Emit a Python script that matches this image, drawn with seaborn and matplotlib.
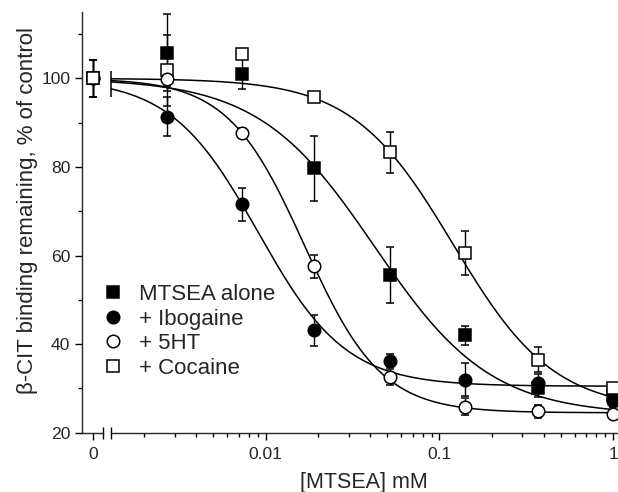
import numpy as np
import pandas as pd
import matplotlib.pyplot as plt
import seaborn as sns
from matplotlib.lines import Line2D
from matplotlib.ticker import NullFormatter

sns.set_style("ticks")
plt.rcParams['font.family'] = ['Liberation Sans', 'DejaVu Sans']

# MTSEA concentrations (mM) and binding remaining (% of control)
conc = [0.0027, 0.0073, 0.019, 0.052, 0.14, 0.37, 1.0]
mtsea = [105.8, 100.9, 79.7, 55.6, 42.0, 30.1, 28.5]
mtsea_err = [8.7, 3.4, 7.4, 6.4, 2.2, 2.0, 1.5]
ibogaine = [91.3, 71.6, 43.1, 36.3, 32.0, 31.2, 27.2]
ibogaine_err = [4.4, 3.7, 3.5, 1.5, 3.7, 2.0, 1.5]
ht5 = [99.8, 87.7, 57.6, 32.5, 25.9, 24.8, 24.2]
ht5_err = [1.5, 1.0, 2.6, 1.8, 2.0, 1.5, 1.0]
cocaine = [101.8, 105.5, 95.8, 83.3, 60.6, 36.5, 30.1]
cocaine_err = [8.0, 1.0, 1.0, 4.7, 5.0, 2.8, 1.0]

# control point (no MTSEA)
control = 100.0
control_err = 4.2

# fitted dose-response curves: bottom, top, IC50 (mM), Hill slope
labels = ["MTSEA alone", "+ Ibogaine", "+ 5HT", "+ Cocaine"]
fit_bottom = [24.0, 30.5, 24.5, 25.0]
fit_top = [100.0, 100.0, 100.0, 100.0]
fit_ic50 = [0.0424, 0.00906, 0.01675, 0.12]
fit_hill = [1.3, 1.72, 1.97, 1.5]

xmin, xmax = 0.001285, 1.05
xs = np.logspace(np.log10(xmin), np.log10(xmax), 300)
rows = []
for lab, b, t, c, h in zip(labels, fit_bottom, fit_top, fit_ic50, fit_hill):
    for x in xs:
        rows.append({"conc": x, "pct": b + (t - b) / (1 + (x / c) ** h), "series": lab})
curves = pd.DataFrame(rows)

fig = plt.figure(figsize=(6.18, 4.92), dpi=100)
ax0 = fig.add_axes([81.7 / 618, 59.3 / 492, 21.6 / 618, 420.7 / 492])
ax = fig.add_axes([110.7 / 618, 59.3 / 492, 506.3 / 618, 420.7 / 492], sharey=ax0)

sns.lineplot(data=curves, x="conc", y="pct", units="series", estimator=None,
             color="black", linewidth=1.1, ax=ax, legend=False)

series = [
    (mtsea, mtsea_err, "s", "black", 8.5),
    (cocaine, cocaine_err, "s", "white", 8.0),
    (ibogaine, ibogaine_err, "o", "black", 9.0),
    (ht5, ht5_err, "o", "white", 9.0),
]
for vals, err, mk, fc, ms in series:
    cont = ax.errorbar(conc, vals, yerr=err, fmt=mk, ms=ms, mfc=fc, mec="black", mew=1.1,
                       ecolor="black", elinewidth=1.0, capsize=2.8, capthick=1.0, zorder=3)
    for art in cont.lines[0:1] + tuple(cont.lines[1]) + tuple(cont.lines[2]):
        art.set_clip_on(False)

# control at zero
for mk, fc, ms in [("s", "black", 8.5), ("o", "black", 9.0), ("o", "white", 9.0), ("s", "white", 8.0)]:
    ax0.errorbar([0], [control], yerr=[control_err], fmt=mk, ms=ms, mfc=fc, mec="black", mew=1.1,
                 ecolor="black", elinewidth=1.0, capsize=2.8, capthick=1.0, zorder=3)

# start mark of fitted curves
ax.vlines(xmin, 95.7, 101.7, color="black", linewidth=1.1, clip_on=False)

ax.set_xscale("log")
ax.set_xlim(xmin, xmax)
ax0.set_xlim(-0.51, 0.49)
ax0.set_ylim(20, 115)

ax0.set_xticks([0])
ax0.set_xticklabels(["0"])
ax0.set_yticks([20, 40, 60, 80, 100])
ax0.set_yticks([30, 50, 70, 90, 110], minor=True)
ax.set_xticks([0.01, 0.1, 1])
ax.set_xticklabels(["0.01", "0.1", "1"])
ax.xaxis.set_minor_formatter(NullFormatter())

for a in (ax0, ax):
    a.spines["top"].set_visible(False)
    a.spines["right"].set_visible(False)
    for s in a.spines.values():
        s.set_linewidth(1.0)
    a.tick_params(which="major", direction="out", length=5, width=1.0, labelsize=12.6,
                  color="black", pad=3.2)
    a.tick_params(axis="x", which="major", pad=5.5)
    a.tick_params(which="minor", direction="out", length=3, width=1.0, color="black")
ax.spines["left"].set_visible(False)
ax.tick_params(which="both", left=False, labelleft=False)

# axis break marks
ax0.plot([1], [0], marker="|", ms=8, mew=1.0, color="black", transform=ax0.transAxes, clip_on=False)
ax.plot([0], [0], marker="|", ms=8, mew=1.0, color="black", transform=ax.transAxes, clip_on=False)

ax0.set_ylabel("β-CIT binding remaining, % of control", fontsize=16)
ax0.yaxis.set_label_coords(-2.02, 0.528)
ax0.set_xlabel("")
ax.set_xlabel("[MTSEA] mM", fontsize=15.5, labelpad=7)
ax.set_ylabel("")

handles = [
    Line2D([], [], ls="none", marker="s", ms=8.5, mfc="black", mec="black", mew=1.1),
    Line2D([], [], ls="none", marker="o", ms=9.0, mfc="black", mec="black", mew=1.1),
    Line2D([], [], ls="none", marker="o", ms=9.0, mfc="white", mec="black", mew=1.1),
    Line2D([], [], ls="none", marker="s", ms=8.0, mfc="white", mec="black", mew=1.1),
]
fig.legend(handles, labels, loc="upper left", bbox_to_anchor=(101.9 / 618, 1 - 284 / 492),
           frameon=False, fontsize=16, handlelength=1.0, handletextpad=0.67,
           borderpad=0, borderaxespad=0, labelspacing=0.16)

fig.savefig("out.png", dpi=100)
